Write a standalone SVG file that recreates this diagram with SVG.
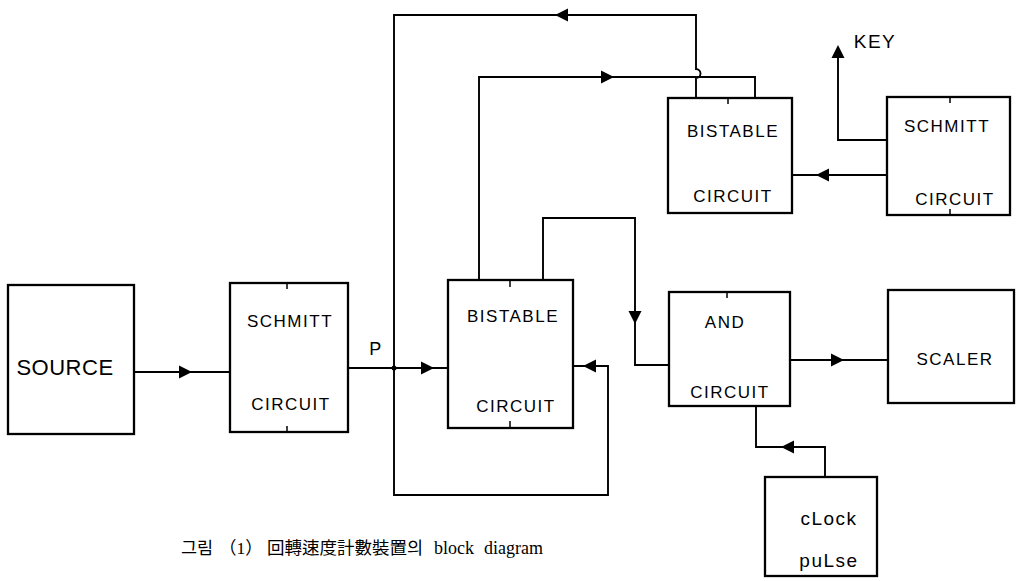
<svg xmlns="http://www.w3.org/2000/svg" width="1017" height="581" viewBox="0 0 1017 581">
<style>
.box{fill:#fff;stroke:#000;stroke-width:2.3}
.tick{stroke:#000;stroke-width:1.5}
.wire{fill:none;stroke:#000;stroke-width:1.9}
.lbl{font-family:"Liberation Sans",Arial,sans-serif;font-size:17px;text-anchor:middle;fill:#000;letter-spacing:1.5px}
.cap{font-family:"Liberation Serif","Noto Sans CJK KR",serif;font-size:17.5px;fill:#000}
</style>
<defs>
<path id="ah" d="M-6,-6.5 L7,0 L-6,6.5 Z" fill="#000"/>
</defs>
<rect width="1017" height="581" fill="#fff"/>

<g id="connectors">
<path class="wire" d="M135,372 H230"/>
<use href="#ah" transform="translate(185,372)"/>
<path class="wire" d="M348,368 H448"/>
<circle cx="394" cy="368" r="2.5" fill="#000"/>
<use href="#ah" transform="translate(427,368)"/>
<path class="wire" d="M573,366 H608 V495 H394 V15 H696 V69 a4.5,4.5 0 0 1 0,9 V98"/>
<use href="#ah" transform="translate(590,366) rotate(180)"/>
<use href="#ah" transform="translate(562,15) rotate(180)"/>
<path class="wire" d="M479,280 V77 H755 V98"/>
<use href="#ah" transform="translate(607,77)"/>
<path class="wire" d="M543,280 V218 H635 V365 H669"/>
<use href="#ah" transform="translate(635,317) rotate(90)"/>
<path class="wire" d="M790,360 H888"/>
<use href="#ah" transform="translate(837,360)"/>
<path class="wire" d="M825,477 V447 H756 V406"/>
<use href="#ah" transform="translate(788,447) rotate(180)"/>
<path class="wire" d="M888,175 H792"/>
<use href="#ah" transform="translate(823,175) rotate(180)"/>
<path class="wire" d="M887,140 H838 V56"/>
<use href="#ah" transform="translate(838,52) rotate(-90)"/>
</g>

<g id="source">
<rect class="box" x="8" y="285" width="126" height="149"/>
<text class="lbl" x="65" y="375" style="font-size:22px;letter-spacing:0.5px">SOURCE</text>
</g>

<g id="schmitt1">
<rect class="box" x="230" y="283" width="118" height="149"/>
<line class="tick" x1="287" y1="283" x2="287" y2="289"/>
<line class="tick" x1="287" y1="426" x2="287" y2="432"/>
<text class="lbl" x="290" y="327">SCHMITT</text>
<text class="lbl" x="291" y="410">CIRCUIT</text>
</g>

<text id="p-label" class="lbl" x="376" y="355" style="font-size:18px">P</text>

<g id="bistable1">
<rect class="box" x="448" y="280" width="125" height="148"/>
<line class="tick" x1="510" y1="280" x2="510" y2="287"/>
<line class="tick" x1="510" y1="421" x2="510" y2="428"/>
<text class="lbl" x="513" y="322">BISTABLE</text>
<text class="lbl" x="516" y="412">CIRCUIT</text>
</g>

<g id="and">
<rect class="box" x="669" y="292" width="121" height="114"/>
<line class="tick" x1="727" y1="292" x2="727" y2="298"/>
<text class="lbl" x="725" y="328">AND</text>
<text class="lbl" x="730" y="398">CIRCUIT</text>
</g>

<g id="scaler">
<rect class="box" x="888" y="290" width="126" height="113"/>
<text class="lbl" x="955" y="365">SCALER</text>
</g>

<g id="clock">
<rect class="box" x="765" y="477" width="112" height="99"/>
<text class="lbl" x="829" y="525" style="font-size:19px">cLock</text>
<text class="lbl" x="829" y="567" style="font-size:19px">puLse</text>
</g>

<g id="bistable2">
<rect class="box" x="668" y="98" width="124" height="115"/>
<line class="tick" x1="728" y1="98" x2="728" y2="104"/>
<text class="lbl" x="733" y="137">BISTABLE</text>
<text class="lbl" x="733" y="202">CIRCUIT</text>
</g>

<g id="schmitt2">
<rect class="box" x="887" y="97" width="123" height="118"/>
<line class="tick" x1="950" y1="97" x2="950" y2="103"/>
<line class="tick" x1="950" y1="209" x2="950" y2="215"/>
<text class="lbl" x="947" y="132">SCHMITT</text>
<text class="lbl" x="955" y="205">CIRCUIT</text>
</g>

<text id="key-label" class="lbl" x="875" y="48" style="font-size:19px">KEY</text>

<text id="caption" class="cap" y="554"><tspan x="181">그림</tspan><tspan x="219">（1）</tspan><tspan x="267">回轉速度計數裝置의</tspan><tspan x="434" style="font-size:18px">block</tspan><tspan x="484" style="font-size:18px">diagram</tspan></text>
</svg>
